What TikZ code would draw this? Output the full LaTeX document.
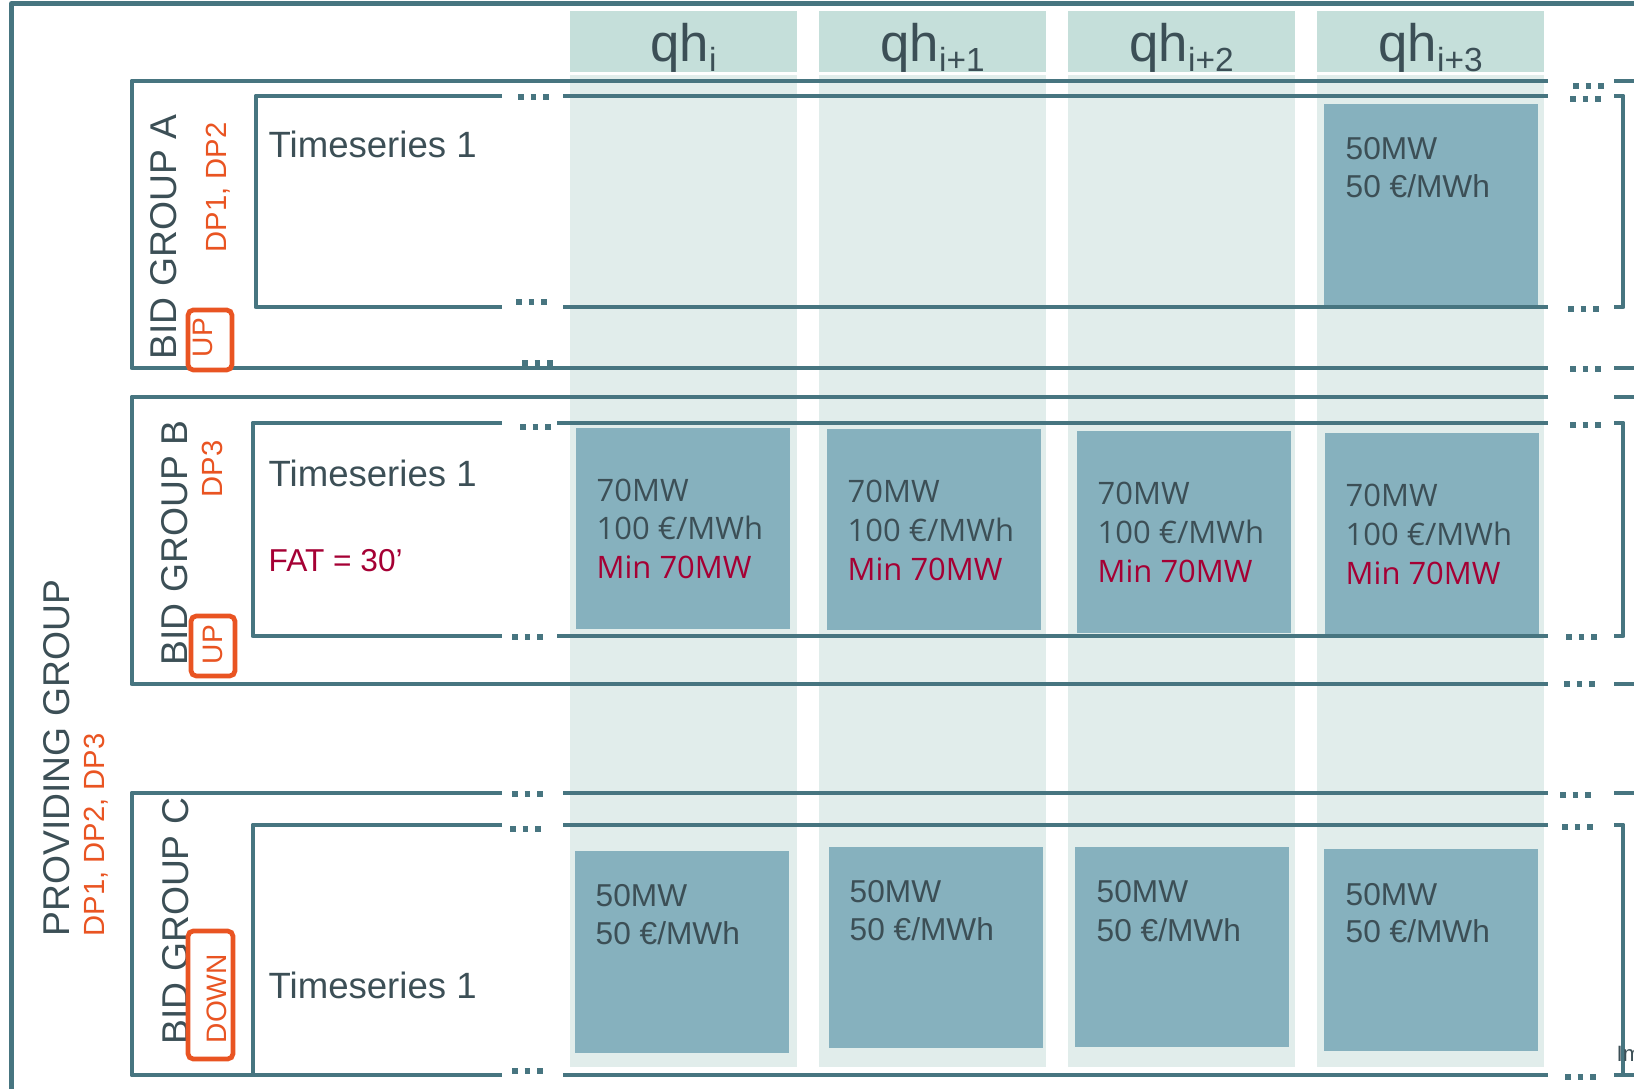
\documentclass[tikz,border=0pt]{standalone}
\usepackage{fontspec}
\setmainfont{Liberation Sans}
\newfontfamily\segoefont{Open Sans}

\definecolor{lineteal}{RGB}{71,117,128}
\definecolor{hdrgreen}{RGB}{197,223,218}
\definecolor{colgreen}{RGB}{225,237,235}
\definecolor{boxblue}{RGB}{134,177,190}
\definecolor{slate}{RGB}{60,79,86}
\definecolor{dporange}{RGB}{233,84,34}
\definecolor{crimson}{RGB}{165,0,52}

\newcommand{\qhsub}[1]{\raisebox{-2.6pt}{\fontsize{9.5}{11}\selectfont #1}}

\tikzset{
	grpline/.style = {draw=lineteal, line width=1.4pt, line join=round},
	dotrow/.style = {draw=lineteal, line width=0.055cm, dash pattern=on 0.055cm off 0.07cm},
	tagbox/.style = {draw=dporange, fill=white, line width=1.35pt, rounded corners=1.5pt},
	qhtxt/.style = {anchor=base, inner sep=0, text=slate, font=\fontsize{15}{18}\selectfont},
	valtxt/.style = {anchor=base west, inner sep=0, text=slate, font=\fontsize{9}{11}\selectfont},
	segtxt/.style = {anchor=base west, inner sep=0, text=slate, font=\segoefont\fontsize{8.8}{11}\selectfont},
	mintxt/.style = {segtxt, text=crimson},
	tstxt/.style = {anchor=base west, inner sep=0, text=slate, font=\fontsize{10.4}{12}\selectfont},
	vlabel/.style = {rotate=90, anchor=base west, inner sep=0, text=slate, font=\fontsize{10.6}{12}\selectfont},
	dplabel/.style = {vlabel, text=dporange, font=\fontsize{8.3}{10}\selectfont},
	taglabel/.style = {vlabel, text=dporange, font=\fontsize{8}{10}\selectfont}
}

\begin{document}
\begin{tikzpicture}[x=0.01cm, y=-0.01cm]
		\useasboundingbox (0,0) rectangle (1634,1089);

		% quarter hour columns
		\fill[colgreen] (570,75) rectangle (797,1067);
		\fill[colgreen] (819,75) rectangle (1046,1067);
		\fill[colgreen] (1068,75) rectangle (1295,1067);
		\fill[colgreen] (1317,75) rectangle (1544,1067);
		\fill[hdrgreen] (570,11) rectangle (797,72);
		\fill[hdrgreen] (819,11) rectangle (1046,72);
		\fill[hdrgreen] (1068,11) rectangle (1295,72);
		\fill[hdrgreen] (1317,11) rectangle (1544,72);
		\node[qhtxt] (qh1) at (683.5,62) {qh\qhsub{i}};
		\node[qhtxt] (qh2) at (932.5,62) {qh\qhsub{i+1}};
		\node[qhtxt] (qh3) at (1181.5,62) {qh\qhsub{i+2}};
		\node[qhtxt] (qh4) at (1430.5,62) {qh\qhsub{i+3}};

		% bids
		\fill[boxblue] (1324,104) rectangle (1538,305);
		\fill[boxblue] (576,428) rectangle (790,629);
		\fill[boxblue] (827,429) rectangle (1041,630);
		\fill[boxblue] (1077,431) rectangle (1291,633);
		\fill[boxblue] (1325,433) rectangle (1539,635);
		\fill[boxblue] (575,851) rectangle (789,1053);
		\fill[boxblue] (829,847) rectangle (1043,1048);
		\fill[boxblue] (1075,847) rectangle (1289,1047);
		\fill[boxblue] (1324,849) rectangle (1538,1051);

		\node[valtxt] (a4w) at (1345,160) {50MW};
		\node[valtxt] (a4p) at (1345,198) {50 €/MWh};
		\node[segtxt] (b1w) at (596,502) {70MW};
		\node[segtxt] (b1p) at (596,540) {100 €/MWh};
		\node[mintxt] (b1m) at (596,579) {Min 70MW};
		\node[segtxt] (b2w) at (847,503) {70MW};
		\node[segtxt] (b2p) at (847,542) {100 €/MWh};
		\node[mintxt] (b2m) at (847,581) {Min 70MW};
		\node[segtxt] (b3w) at (1097,505) {70MW};
		\node[segtxt] (b3p) at (1097,544) {100 €/MWh};
		\node[mintxt] (b3m) at (1097,583) {Min 70MW};
		\node[segtxt] (b4w) at (1345,507) {70MW};
		\node[segtxt] (b4p) at (1345,546) {100 €/MWh};
		\node[mintxt] (b4m) at (1345,585) {Min 70MW};
		\node[valtxt] (c1w) at (595,906) {50MW};
		\node[valtxt] (c1p) at (595,944) {50 €/MWh};
		\node[valtxt] (c2w) at (849,902) {50MW};
		\node[valtxt] (c2p) at (849,940) {50 €/MWh};
		\node[valtxt] (c3w) at (1096,902) {50MW};
		\node[valtxt] (c3p) at (1096,941) {50 €/MWh};
		\node[valtxt] (c4w) at (1345,905) {50MW};
		\node[valtxt] (c4p) at (1345,942) {50 €/MWh};

		% dots where the lines break
		\draw[dotrow] (518,97) -- ++(31,0);
		\draw[dotrow] (516,302) -- ++(31,0);
		\draw[dotrow] (522,363) -- ++(31,0);
		\draw[dotrow] (1573,86) -- ++(31,0);
		\draw[dotrow] (1570,99) -- ++(31,0);
		\draw[dotrow] (1568,309) -- ++(31,0);
		\draw[dotrow] (1570,369) -- ++(31,0);
		\draw[dotrow] (520,427) -- ++(31,0);
		\draw[dotrow] (512,637) -- ++(31,0);
		\draw[dotrow] (1570,425) -- ++(31,0);
		\draw[dotrow] (1566,637) -- ++(31,0);
		\draw[dotrow] (1564,684) -- ++(31,0);
		\draw[dotrow] (512,794) -- ++(31,0);
		\draw[dotrow] (510,829) -- ++(31,0);
		\draw[dotrow] (512,1071) -- ++(31,0);
		\draw[dotrow] (1560,795) -- ++(31,0);
		\draw[dotrow] (1562,827) -- ++(31,0);
		\draw[dotrow] (1565,1077) -- ++(31,0);

		% providing group
		\draw[grpline] (11.5,1100) -- (11.5,3.5) -- (1640,3.5);

		% bid group A
		\draw[grpline] (1548,81) -- (132,81) -- (132,368) -- (1548,368);
		\draw[grpline] (1614,81) -- (1640,81);
		\draw[grpline] (1614,368) -- (1640,368);
		\draw[grpline] (502,96) -- (256,96) -- (256,307) -- (502,307);
		\draw[grpline] (563,96) -- (1548,96);
		\draw[grpline] (563,307) -- (1548,307);
		\draw[grpline] (1614,96) -- (1623,96) -- (1623,307) -- (1614,307);

		% bid group B
		\draw[grpline] (1548,397) -- (132,397) -- (132,684) -- (1548,684);
		\draw[grpline] (1614,397) -- (1640,397);
		\draw[grpline] (1614,684) -- (1640,684);
		\draw[grpline] (502,423) -- (253,423) -- (253,636) -- (502,636);
		\draw[grpline] (557,423) -- (1548,423);
		\draw[grpline] (557,636) -- (1548,636);
		\draw[grpline] (1614,423) -- (1623,423) -- (1623,636) -- (1614,636);

		% bid group C
		\draw[grpline] (502,793) -- (132,793) -- (132,1075) -- (502,1075);
		\draw[grpline] (563,793) -- (1548,793);
		\draw[grpline] (1614,793) -- (1640,793);
		\draw[grpline] (563,1075) -- (1548,1075);
		\draw[grpline] (1614,1075) -- (1640,1075);
		\draw[grpline] (502,825) -- (253,825) -- (253,1075);
		\draw[grpline] (563,825) -- (1548,825);
		\draw[grpline] (1614,825) -- (1623,825) -- (1623,1075);

		% labels
		\node[tstxt] (tsA) at (268,158) {Timeseries 1};
		\node[tstxt] (tsB) at (268,487) {Timeseries 1};
		\node[tstxt, text=crimson, font=\fontsize{9}{11}\selectfont] (fat) at (268,572) {FAT = 30’};
		\node[tstxt] (tsC) at (268,998) {Timeseries 1};

		\node[vlabel] (pg) at (69,937) {PROVIDING GROUP};
		\node[dplabel] (pgdp) at (104,937) {DP1, DP2, DP3};
		\node[vlabel] (bgA) at (176,360) {BID GROUP A};
		\node[dplabel] (dpA) at (226,253) {DP1, DP2};
		\node[vlabel] (bgB) at (187,666) {BID GROUP B};
		\node[dplabel] (dpB) at (222,498) {DP3};
		\node[vlabel] (bgC) at (188,1045) {BID GROUP C};

		\draw[tagbox] (188,310) rectangle (232,370);
		\node[taglabel] (upA) at (212,358) {UP};
		\draw[tagbox] (191,616) rectangle (235,676);
		\node[taglabel] (upB) at (222,665) {UP};
		\draw[tagbox] (188,931) rectangle (233,1059);
		\node[taglabel] (downC) at (226,1044) {DOWN};

		\node[anchor=base west, inner sep=0, text=slate, font=\fontsize{6.3}{8}\selectfont] (im) at (1616,1061) {Im};
\end{tikzpicture}
\end{document}
